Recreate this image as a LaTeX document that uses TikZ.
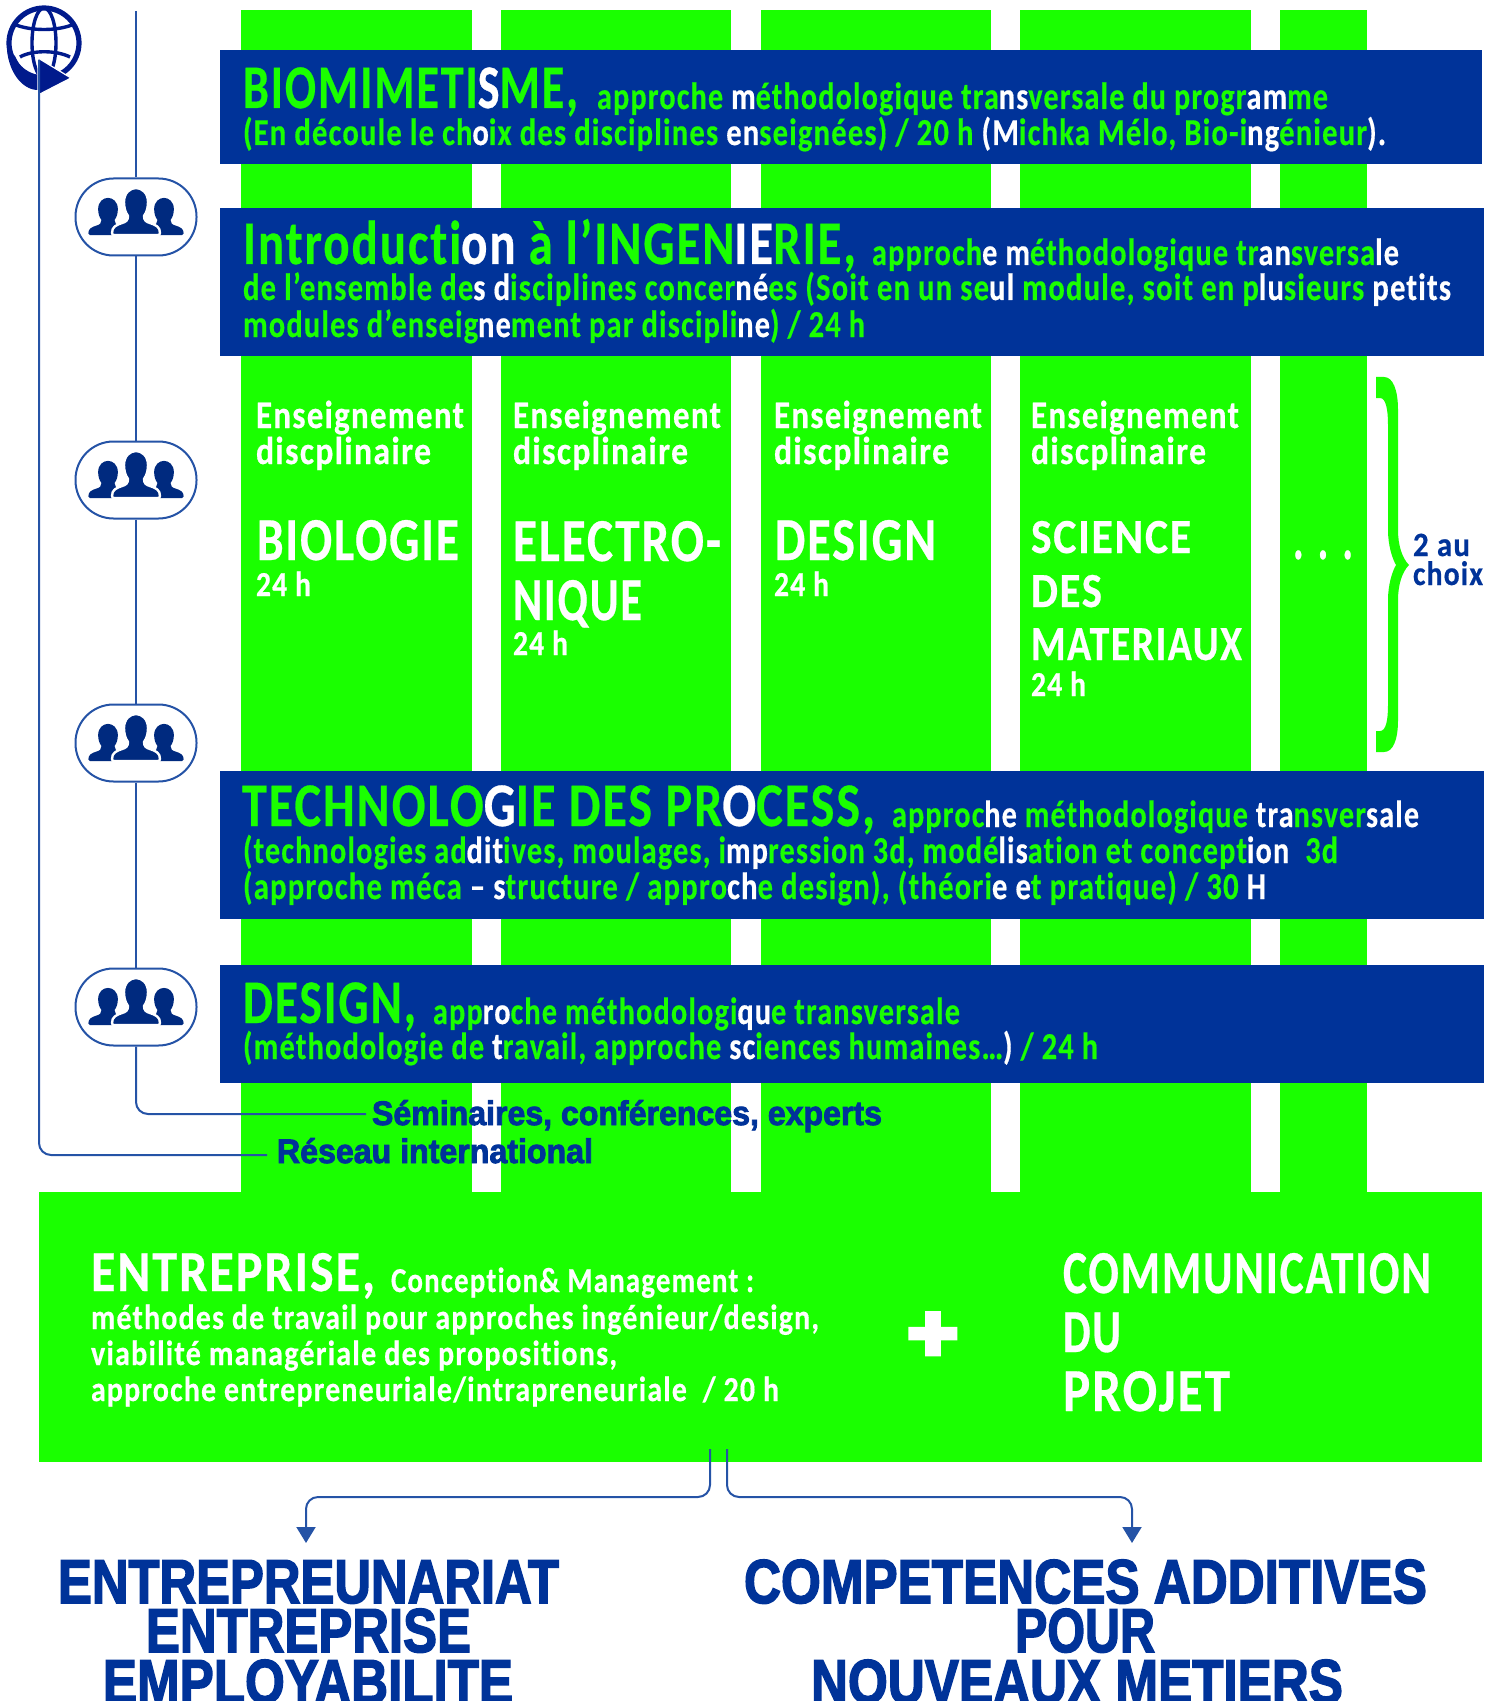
\documentclass[tikz,border=0pt]{standalone}
\usepackage{fontspec}
\usepackage{graphicx}
\usetikzlibrary{arrows.meta}
\newfontfamily\din[LetterSpace=4,RawFeature={-liga;-clig;-calt;-dlig},BoldFeatures={FakeBold=0.5}]{Carlito}
\newfontfamily\plusf[BoldFeatures={FakeBold=7}]{Carlito}
\newfontfamily\heavy[BoldFeatures={FakeBold=2.6}]{Liberation Sans}
\definecolor{vert}{HTML}{1AFF00}
\definecolor{bleu}{HTML}{003399}
\definecolor{trait}{HTML}{2553A6}
\definecolor{marine}{HTML}{002A7F}
\definecolor{globe}{HTML}{001A8C}
\newdimen\pxu \pxu=0.5pt
\newcommand\fit[2]{\resizebox{#1\pxu}{\height}{#2}}
\newcommand\W[1]{\textcolor{white}{#1}}
\newcommand\personpath{(-24,16) .. controls (-24,10) and (-20,8) .. (-14,6) .. controls (-10,5) and (-8,3) .. (-8,-1) .. controls (-11,-5) and (-12,-10) .. (-12,-15) .. controls (-12,-24) and (-6,-29) .. (0,-29) .. controls (6,-29) and (12,-24) .. (12,-15) .. controls (12,-10) and (11,-5) .. (8,-1) .. controls (8,3) and (10,5) .. (14,6) .. controls (20,8) and (24,10) .. (24,16) .. controls (24,17.5) and (23,18) .. (22,18) -- (-22,18) .. controls (-23,18) and (-24,17.5) .. (-24,16) -- cycle}
\tikzset{
  tx/.style={anchor=base west,inner sep=0pt,outer sep=0pt},
  titre/.style={tx,text=vert,font=\din\bfseries\fontsize{31}{30}\selectfont},
  sous/.style={tx,text=vert,font=\din\bfseries\fontsize{19}{20}\selectfont},
  cola/.style={tx,text=white,font=\din\bfseries\fontsize{19.5}{20}\selectfont},
  colb/.style={tx,text=white,font=\din\bfseries\fontsize{30.5}{30}\selectfont},
  colc/.style={tx,text=white,font=\din\bfseries\fontsize{24.5}{24}\selectfont},
  cold/.style={tx,text=white,font=\din\bfseries\fontsize{17.5}{20}\selectfont},
  ent/.style={tx,text=white,font=\din\bfseries\fontsize{29}{30}\selectfont},
  ents/.style={tx,text=white,font=\din\bfseries\fontsize{17.5}{20}\selectfont},
  lab/.style={tx,text=bleu,font=\heavy\bfseries\fontsize{17}{20}\selectfont},
  big/.style={tx,text=bleu,font=\heavy\bfseries\fontsize{31}{30}\selectfont},
  choix/.style={tx,text=bleu,font=\din\bfseries\fontsize{17}{20}\selectfont},
  oval/.style={draw=trait,line width=1pt,fill=white,rounded corners=19pt,minimum width=60.5pt,minimum height=38.5pt,inner sep=0pt},
  conn/.style={draw=trait,line width=1pt,rounded corners=6pt},
  connarrow/.style={conn,-{Triangle[width=9.5pt,length=8pt]}},
  peoplepic/.pic={
    \begin{scope}[shift={(-28,3.8)},xscale=.82,yscale=.79]\fill[marine] \personpath;\end{scope}
    \begin{scope}[shift={(28,3.8)},xscale=.82,yscale=.79]\fill[marine] \personpath;\end{scope}
    \filldraw[fill=marine,draw=white,line width=1.2pt] \personpath;
  }
}
\begin{document}
\begin{tikzpicture}[x=0.5pt,y=-0.5pt]
\useasboundingbox (0,0) rectangle (1497,1701);
% columns
\fill[vert] (241,10) rectangle (472,1192);
\fill[vert] (501,10) rectangle (731,1192);
\fill[vert] (761,10) rectangle (991,1192);
\fill[vert] (1020,10) rectangle (1251,1192);
\fill[vert] (1280,10) rectangle (1367,1192);
% bars
\fill[bleu] (220,50) rectangle (1482,164);
\fill[bleu] (220,208) rectangle (1484,356);
\fill[bleu] (220,771) rectangle (1484,919);
\fill[bleu] (220,965) rectangle (1484,1083);
\fill[vert] (39,1192) rectangle (1482,1462);
% bar 1
\node[titre] (t1) at (243,108) {\fit{335}{BIOMIMETI\W{S}ME,}};
\node[sous] (t1a) at (597,109) {\fit{731}{approche \W{m}éthodologique tra\W{ns}versale du progr\W{am}me}};
\node[sous] (t1b) at (243,145) {\fit{1143}{(En découle le ch\W{o}ix des disciplines \W{en}seignées) / 20 h \W{(M}ichka Mélo, Bio-i\W{ng}énieur\W{).}}};
% bar 2
\node[titre] (t2) at (243,264) {\fit{613}{Introducti\W{on} à l’INGEN\W{IE}RIE,}};
\node[sous] (t2a) at (872,265) {\fit{527}{approch\W{e m}éthodologique tr\W{an}sversa\W{le}}};
\node[sous] (t2b) at (243,300) {\fit{1208}{de l’ensemble de\W{s d}isciplines concer\W{né}es (Soit en un se\W{ul} module, soit en p\W{lu}sieurs \W{petits}}};
\node[sous] (t2c) at (243,337) {\fit{622}{modules d’enseig\W{ne}ment par discipli\W{ne}) / 24 h}};
% bar 3
\node[titre] (t3) at (242,826) {\fit{633}{TECHNOLO\W{G}IE DES PR\W{O}CESS,}};
\node[sous] (t3a) at (892,827) {\fit{527}{approc\W{he} méthodologique \W{tra}nsver\W{sale}}};
\node[sous] (t3b) at (243,863) {\fit{1095}{(technologies ad\W{dit}ives, moulages, i\W{mp}ression 3d, modé\W{lis}ation et concept\W{ion}~~3d}};
\node[sous] (t3c) at (243,899) {\fit{1023}{(approche méca \W{– s}tructure / appro\W{ch}e design), (théori\W{e e}t pratique) / 30 \W{H}}};
% bar 4
\node[titre] (t4) at (243,1023) {\fit{173}{DESIGN,}};
\node[sous] (t4a) at (433,1024) {\fit{527}{app\W{ro}che méthodologi\W{qu}e transversale}};
\node[sous] (t4b) at (243,1059) {\fit{855}{(méthodologie de \W{t}ravail, approche \W{sc}iences humaines…\W{)} / 24 h}};
% column 1
\node[cola] (c1a) at (256,428) {\fit{208}{Enseignement}};
\node[cola] (c1b) at (256,464) {\fit{175}{discplinaire}};
\node[colb] (c1c) at (257,560) {\fit{202}{BIOLOGIE}};
\node[cold] (c1d) at (256,596) {\fit{55}{24 h}};
% column 2
\node[cola] (c2a) at (513,428) {\fit{208}{Enseignement}};
\node[cola] (c2b) at (513,464) {\fit{175}{discplinaire}};
\node[colb] (c2c) at (513,561) {\fit{208}{ELECTRO-}};
\node[colb] (c2d) at (513,620) {\fit{129}{NIQUE}};
\node[cold] (c2e) at (513,655) {\fit{55}{24 h}};
% column 3
\node[cola] (c3a) at (774,428) {\fit{208}{Enseignement}};
\node[cola] (c3b) at (774,464) {\fit{175}{discplinaire}};
\node[colb] (c3c) at (775,560) {\fit{161}{DESIGN}};
\node[cold] (c3d) at (774,596) {\fit{55}{24 h}};
% column 4
\node[cola] (c4a) at (1031,428) {\fit{208}{Enseignement}};
\node[cola] (c4b) at (1031,464) {\fit{175}{discplinaire}};
\node[colc] (c4c) at (1031,553) {\fit{160}{SCIENCE}};
\node[colc] (c4d) at (1031,607) {\fit{71}{DES}};
\node[colc] (c4e) at (1031,660) {\fit{211}{MATERIAUX}};
\node[cold] (c4f) at (1031,696) {\fit{55}{24 h}};
% column 5
\node[colb] (c5) at (1293,559) {\fit{60}{. . .}};
% brace
\fill[vert] (1376,377) -- (1384,377) .. controls (1393,377) and (1398,390) .. (1398,410) -- (1398,530) .. controls (1398,545) and (1402,558) .. (1409,565) .. controls (1402,572) and (1398,585) .. (1398,600) -- (1398,720) .. controls (1398,740) and (1393,752) .. (1384,752) -- (1376,752) -- (1376,731) -- (1380,731) .. controls (1386,731) and (1388,720) .. (1388,705) -- (1388,600) .. controls (1388,585) and (1392,572) .. (1396,565) .. controls (1392,558) and (1388,545) .. (1388,530) -- (1388,425) .. controls (1388,410) and (1386,398) .. (1380,398) -- (1376,398) -- cycle;
\node[choix] (ch1) at (1413,556) {\fit{57}{2 au}};
\node[choix] (ch2) at (1413,585) {\fit{70}{choix}};
% entreprise
\node[ent] (e1) at (91,1291) {\fit{284}{ENTREPRISE,}};
\node[ents] (e1a) at (391,1292) {\fit{363}{Conception\& Management :}};
\node[ents] (e2) at (91,1329) {\fit{728}{méthodes de travail pour approches ingénieur/design,}};
\node[ents] (e3) at (91,1365) {\fit{526}{viabilité managériale des propositions,}};
\node[ents] (e4) at (91,1401) {\fit{688}{approche entrepreneuriale/intrapreneuriale~~/ 20 h}};
\node[anchor=center,inner sep=0pt,text=white,font=\plusf\bfseries\fontsize{30}{30}\selectfont] (plus) at (933,1337) {\resizebox{46\pxu}{46\pxu}{+}};
\node[ent,font=\din\bfseries\fontsize{30.5}{30}\selectfont] (k1) at (1063,1293) {\fit{368}{COMMUNICATION}};
\node[ent,font=\din\bfseries\fontsize{30.5}{30}\selectfont] (k2) at (1063,1352) {\fit{58}{DU}};
\node[ent,font=\din\bfseries\fontsize{30.5}{30}\selectfont] (k3) at (1063,1411) {\fit{167}{PROJET}};
% globe
\coordinate (gc) at (44,43);
\draw[globe,line width=2.6pt] (gc) circle[radius=35];
\draw[globe,line width=1.7pt] (gc) ellipse[x radius=12,y radius=35];
\draw[globe,line width=1.7pt] (16,25) .. controls (32,31) and (56,31) .. (72,25);
\draw[globe,line width=1.7pt] (20,57) .. controls (32,50) and (56,50) .. (70,57);
\fill[globe] (7,50) .. controls (9,72) and (22,90) .. (38,90) -- (38,75) .. controls (28,74) and (20,68) .. (15,56) -- cycle;
\filldraw[fill=globe,draw=white,line width=.6pt] (38,58) -- (71,78) -- (38,95) -- cycle;
% people nodes and rails
\coordinate (railTop) at (136,11);
\node[oval] (p1) at (136,217) {};
\node[oval] (p2) at (136,480) {};
\node[oval] (p3) at (136,743) {};
\node[oval] (p4) at (136,1007) {};
\node[lab] (sem) at (372,1125) {\fit{510}{Séminaires, conférences, experts}};
\node[lab] (res) at (277,1163) {\fit{316}{Réseau international}};
\coordinate (semEnd) at (366,1114);
\coordinate (resEnd) at (267,1155);
\draw[conn] (railTop) -- (p1);
\draw[conn] (p1) -- (p2);
\draw[conn] (p2) -- (p3);
\draw[conn] (p3) -- (p4);
\draw[conn] (p4) |- (semEnd);
\coordinate (globeTip) at (39,60);
\draw[conn] (globeTip) |- (resEnd);
\pic at (p1) {peoplepic};
\pic at (p2) {peoplepic};
\pic at (p3) {peoplepic};
\pic at (p4) {peoplepic};
% connectors to outcomes
\coordinate (sL) at (710,1449);
\coordinate (sR) at (727,1449);
\coordinate (aL) at (306,1543);
\coordinate (aR) at (1132,1543);
\draw[connarrow] (sL) -- (710,1497) -- (306,1497) -- (aL);
\draw[connarrow] (sR) -- (727,1497) -- (1132,1497) -- (aR);
% outcomes
\node[big] (o1) at (58,1603) {\fit{501}{ENTREPREUNARIAT}};
\node[big] (o2) at (146,1652) {\fit{325}{ENTREPRISE}};
\node[big] (o3) at (103,1703) {\fit{410}{EMPLOYABILITE}};
\node[big] (o4) at (744,1603) {\fit{683}{COMPETENCES ADDITIVES}};
\node[big] (o5) at (1015,1652) {\fit{140}{POUR}};
\node[big] (o6) at (811,1703) {\fit{532}{NOUVEAUX METIERS}};
\end{tikzpicture}
\end{document}
